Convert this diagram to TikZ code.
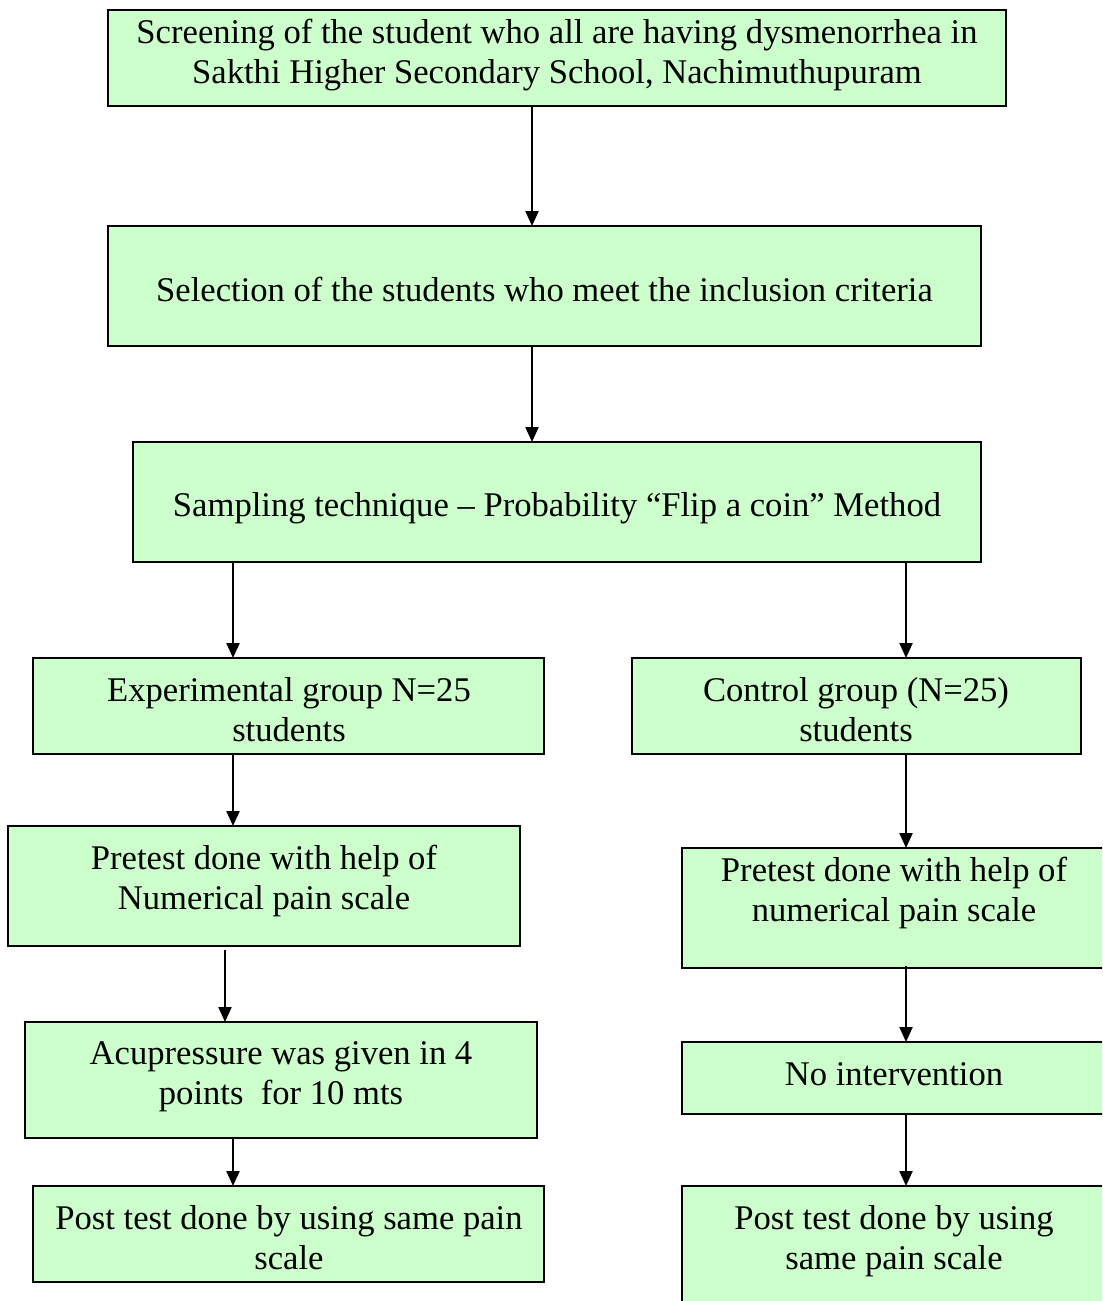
\documentclass[tikz,border=0pt]{standalone}
\usepackage{fontspec}
\setmainfont{Liberation Serif}
\usetikzlibrary{arrows.meta}
\newdimen\px \px=0.02cm
\definecolor{boxgreen}{HTML}{CCFFCC}
\tikzset{
  box/.style={draw=black, fill=boxgreen, line width=0.045cm, rectangle, inner sep=0pt, outer sep=0pt},
  txt/.style={align=center, inner sep=0pt, font=\fontsize{19.7}{22.8}\selectfont},
  arr/.style={line width=0.045cm, -{Triangle[length=0.3cm,width=0.26cm]}}
}
\begin{document}
\begin{tikzpicture}[x=0.02cm,y=-0.02cm]
\useasboundingbox (0,0) rectangle (1102,1301);
\clip (0,0) rectangle (1102,1301);
% boxes
\node[box, minimum width=898*\px, minimum height=96*\px] (b1) at (557,58) {};
\node[box, minimum width=873*\px, minimum height=120*\px] (b2) at (544.5,286) {};
\node[box, minimum width=848*\px, minimum height=120*\px] (b3) at (557,502) {};
\node[box, minimum width=511*\px, minimum height=96*\px] (b4) at (288.5,706) {};
\node[box, minimum width=449*\px, minimum height=96*\px] (b5) at (856.5,706) {};
\node[box, minimum width=512*\px, minimum height=120*\px] (b6) at (264,886) {};
\node[box, minimum width=448*\px, minimum height=120*\px] (b7) at (906,908) {};
\node[box, minimum width=512*\px, minimum height=116*\px] (b8) at (281,1080) {};
\node[box, minimum width=448*\px, minimum height=72*\px] (b9) at (906,1078) {};
\node[box, minimum width=511*\px, minimum height=96*\px] (b10) at (288.5,1234) {};
\node[box, minimum width=448*\px, minimum height=154*\px] (b11) at (906,1263) {};
% texts
\node[txt] (t1) at (557,55) {Screening of the student who all are having dysmenorrhea in\\Sakthi Higher Secondary School, Nachimuthupuram};
\node[txt] (t2) at (544.5,289) {Selection of the students who meet the inclusion criteria};
\node[txt] (t3) at (557,508) {Sampling technique – Probability “Flip a coin” Method};
\node[txt] (t4) at (289,710) {Experimental group N=25\\students};
\node[txt] (t5) at (856,710) {Control group (N=25)\\students};
\node[txt] (t6) at (264,881) {Pretest done with help of\\Numerical pain scale};
\node[txt] (t7) at (894,893) {Pretest done with help of\\numerical pain scale};
\node[txt] (t8) at (281,1077) {Acupressure was given in 4\\points\ \ for 10 mts};
\node[txt] (t9) at (894,1074) {No intervention};
\node[txt] (t10) at (289,1238) {Post test done by using same pain\\scale};
\node[txt] (t11) at (894,1241) {Post test done by using\\same pain scale};
% arrows
\draw[arr] ([xshift=-25*\px]b1.south) -- ([xshift=-25*\px]b1.south |- b2.north);
\draw[arr] ([xshift=-12.5*\px]b2.south) -- ([xshift=-12.5*\px]b2.south |- b3.north);
\draw[arr] ([xshift=-324*\px]b3.south) -- ([xshift=-324*\px]b3.south |- b4.north);
\draw[arr] ([xshift=349*\px]b3.south) -- ([xshift=349*\px]b3.south |- b5.north);
\draw[arr] ([xshift=-55.5*\px]b4.south) -- ([xshift=-55.5*\px]b4.south |- b6.north);
\draw[arr] ([xshift=49.5*\px]b5.south) -- ([xshift=49.5*\px]b5.south |- b7.north);
\draw[arr] ([xshift=-39*\px,yshift=-4*\px]b6.south) -- ([xshift=-39*\px]b6.south |- b8.north);
\draw[arr] ([yshift=2*\px]b7.south) -- (b7.south |- b9.north);
\draw[arr] ([xshift=-48*\px]b8.south) -- ([xshift=-48*\px]b8.south |- b10.north);
\draw[arr] (b9.south) -- (b9.south |- b11.north);
\end{tikzpicture}
\end{document}
